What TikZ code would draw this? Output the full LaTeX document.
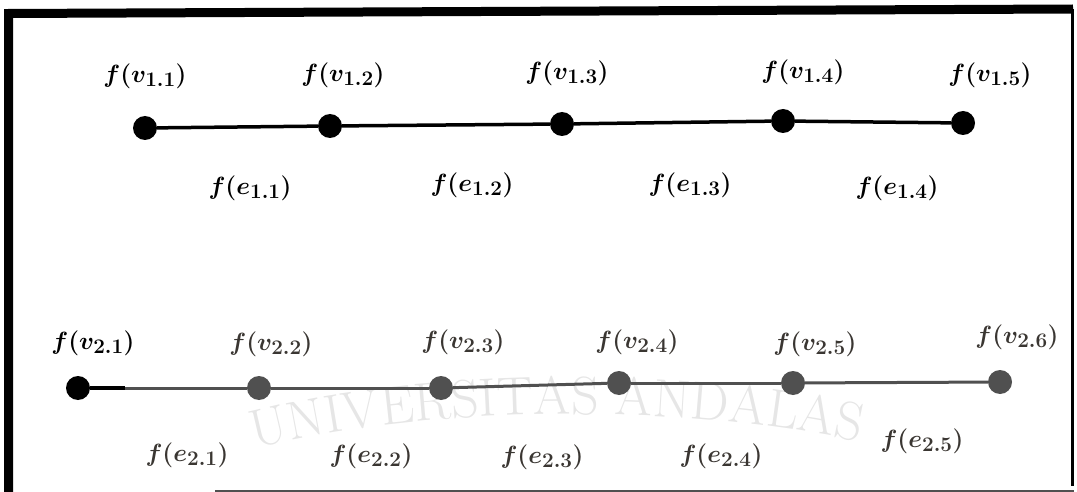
\documentclass[tikz,border=0pt]{standalone}
\usetikzlibrary{decorations.text}
\DeclareMathSizes{26}{26}{20}{14}
\definecolor{dgray}{HTML}{505050}
\definecolor{lblgray}{HTML}{3A3632}
\definecolor{wmgray}{HTML}{E6E6E6}
\tikzset{
  vtx/.style={circle, fill=black, inner sep=0pt, minimum size=24pt},
  vtxg/.style={vtx, fill=dgray},
  edge/.style={line width=3.5pt, black},
  edgeg/.style={line width=3pt, dgray},
  lab/.style={font=\fontsize{26}{30}\selectfont\boldmath, inner sep=0pt, text=black},
  labg/.style={lab, text=lblgray},
  frame/.style={line width=9pt, black},
}
\begin{document}
\begin{tikzpicture}[x=1pt,y=-1pt]
\useasboundingbox (0,0) rectangle (1077,492);
% watermark
\path[decorate, decoration={text along path, text align=center,
  text={|\fontsize{54}{54}\selectfont\color{wmgray}|UNIVERSITAS ANDALAS}}]
  (230,456) .. controls (400,404) and (700,400) .. (884,448);
% frame
\draw[frame] (8.5,492) -- (8.5,13.5) -- (1073,9);
\draw[line width=3pt] (1072.5,9) -- (1072.5,486);
\draw[line width=2pt, dgray] (215,490.5) -- (1074,490.5);
% top row
\node[vtx] (a1) at (145,128) {};
\node[vtx] (a2) at (330,126) {};
\node[vtx] (a3) at (562,124) {};
\node[vtx] (a4) at (783,121) {};
\node[vtx] (a5) at (963,123) {};
\draw[edge] (a1) -- (a2);
\draw[edge] (a2) -- (a3);
\draw[edge] (a3) -- (a4);
\draw[edge] (a4) -- (a5);
\node[lab] (la1) at (145,76) {$f(v_{1.1})$};
\node[lab] (la2) at (343,75) {$f(v_{1.2})$};
\node[lab] (la3) at (567,73) {$f(v_{1.3})$};
\node[lab] (la4) at (803,72) {$f(v_{1.4})$};
\node[lab] (la5) at (990,75) {$f(v_{1.5})$};
\node[lab] (ea1) at (250,188) {$f(e_{1.1})$};
\node[lab] (ea2) at (472,185) {$f(e_{1.2})$};
\node[lab] (ea3) at (690,185) {$f(e_{1.3})$};
\node[lab] (ea4) at (897,188) {$f(e_{1.4})$};
% bottom row
\node[vtx] (b1) at (78,388) {};
\node[vtxg] (b2) at (259,388) {};
\node[vtxg] (b3) at (441,388) {};
\node[vtxg] (b4) at (619,383) {};
\node[vtxg] (b5) at (793,383) {};
\node[vtxg] (b6) at (1000,382) {};
\coordinate (bk) at (125,388);
\draw[edgeg] (b1) -- (b2);
\draw[edge] (b1) -- (bk);
\draw[edgeg] (b2) -- (b3);
\draw[edgeg] (b3) -- (b4);
\draw[edgeg] (b4) -- (b5);
\draw[edgeg] (b5) -- (b6);
\node[lab] (lb1) at (93,343) {$f(v_{2.1})$};
\node[labg] (lb2) at (271,344) {$f(v_{2.2})$};
\node[labg] (lb3) at (463,342) {$f(v_{2.3})$};
\node[labg] (lb4) at (637,342) {$f(v_{2.4})$};
\node[labg] (lb5) at (815,344) {$f(v_{2.5})$};
\node[labg] (lb6) at (1017,337) {$f(v_{2.6})$};
\node[labg] (eb1) at (187,455) {$f(e_{2.1})$};
\node[labg] (eb2) at (371,456) {$f(e_{2.2})$};
\node[labg] (eb3) at (542,457) {$f(e_{2.3})$};
\node[labg] (eb4) at (721,456) {$f(e_{2.4})$};
\node[labg] (eb5) at (922,441) {$f(e_{2.5})$};
\end{tikzpicture}
\end{document}
